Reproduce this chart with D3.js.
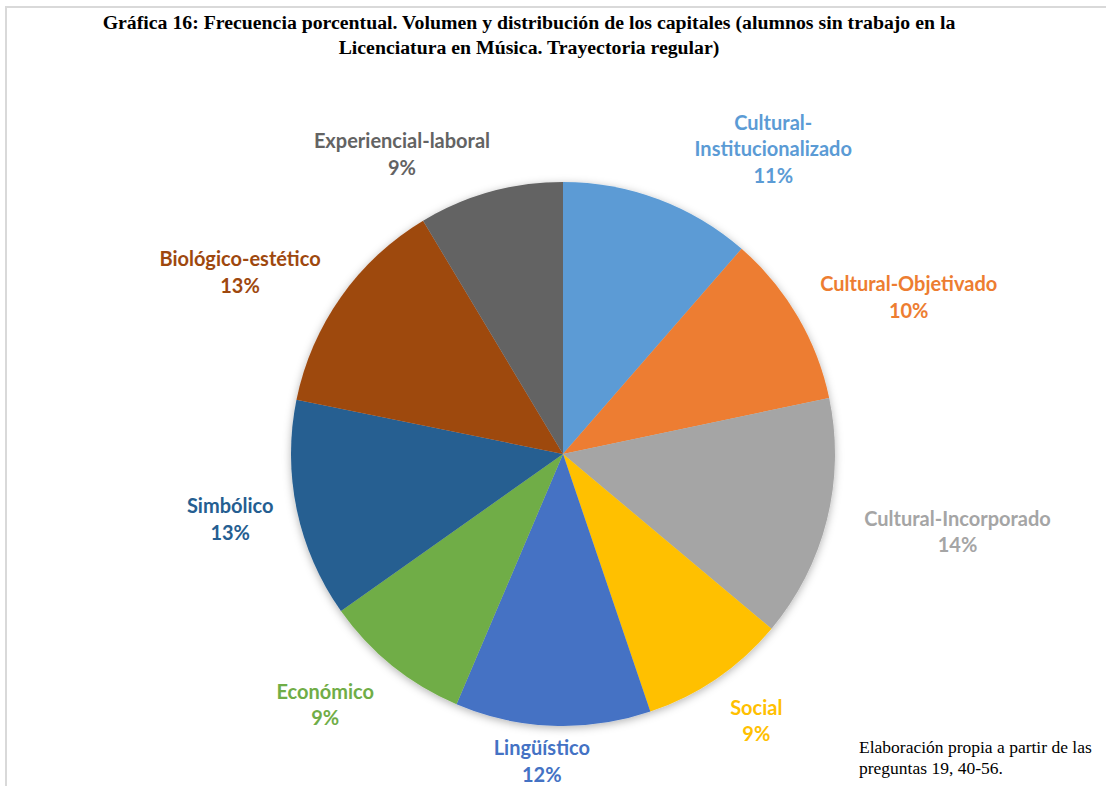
<!DOCTYPE html>
<html>
<head>
<meta charset="utf-8">
<script src="https://cdn.jsdelivr.net/npm/d3@7"></script>
<style>
  html, body { margin: 0; padding: 0; background: #ffffff; }
  svg { display: block; }
</style>
</head>
<body>
<svg id="chart" width="1106" height="786"></svg>
<script>
// Capital categories, clockwise from 12 o'clock
const categories = [
  "Cultural-Institucionalizado",
  "Cultural-Objetivado",
  "Cultural-Incorporado",
  "Social",
  "Lingüístico",
  "Económico",
  "Simbólico",
  "Biológico-estético",
  "Experiencial-laboral"
];
// Percentage frequency of each capital
const values = [11.4, 10.3, 14.4, 8.7, 11.6, 8.8, 13.0, 13.2, 8.6];
const sliceColors = [
  "#5B9BD5", "#ED7D31", "#A5A5A5", "#FFC000", "#4472C4",
  "#70AD47", "#255E91", "#9E480E", "#636363"
];
const titleLines = [
  "Gráfica 16: Frecuencia porcentual. Volumen y distribución de los capitales (alumnos sin trabajo en la",
  "Licenciatura en Música. Trayectoria regular)"
];
const noteLines = [
  "Elaboración propia a partir de las",
  "preguntas 19, 40-56."
];

const W = 1106, H = 786;
const cx = 563, cy = 454, radius = 272;

const svg = d3.select("#chart");

// Outer frame (top and left edges visible)
svg.append("path")
  .attr("d", `M6,${H} L6,7 L${W},7`)
  .attr("fill", "none")
  .attr("stroke", "#d9d9d9")
  .attr("stroke-width", 2);

// Title
const title = svg.append("text")
  .attr("text-anchor", "middle")
  .attr("font-family", "'Liberation Serif', 'Times New Roman', serif")
  .attr("font-weight", "bold")
  .attr("font-size", 19.8)
  .attr("fill", "#000");
titleLines.forEach((t, i) => {
  title.append("tspan")
    .attr("x", 529)
    .attr("y", 29 + i * 25)
    .text(t);
});

// Soft drop shadow under the pie
const defs = svg.append("defs");
const f = defs.append("filter").attr("id", "pieShadow")
  .attr("x", "-10%").attr("y", "-10%").attr("width", "120%").attr("height", "120%");
f.append("feDropShadow")
  .attr("dx", 0).attr("dy", 2)
  .attr("stdDeviation", 4)
  .attr("flood-color", "#000")
  .attr("flood-opacity", 0.3);

const data = categories.map((c, i) => ({ name: c, value: values[i], color: sliceColors[i] }));

const pie = d3.pie().sort(null).value(d => d.value);
const arcs = pie(data);
const arc = d3.arc().innerRadius(0).outerRadius(radius);

const g = svg.append("g").attr("transform", `translate(${cx},${cy})`);
g.append("g").attr("filter", "url(#pieShadow)")
  .selectAll("path")
  .data(arcs)
  .join("path")
  .attr("d", arc)
  .attr("fill", d => d.data.color);

// Data label placement: angular nudge (degrees) and distance from centre
const labelPlacement = {
  "Cultural-Institucionalizado": { turn: 14.0, dist: 371 },
  "Cultural-Objetivado": { turn: 5.9, dist: 380 },
  "Cultural-Incorporado": { turn: -3.0, dist: 402 },
  "Social": { turn: -1.6, dist: 329 },
  "Lingüístico": { turn: 1.8, dist: 307 },
  "Económico": { turn: 4.7, dist: 345 },
  "Simbólico": { turn: 0.9, dist: 339 },
  "Biológico-estético": { turn: -5.8, dist: 371 },
  "Experiencial-laboral": { turn: -12.7, dist: 341 }
};

const pct = d3.format(".0%");
const lineH = 26.5;

function labelLines(d) {
  const name = d.data.name;
  const lines = name.length > 22 ? name.replace("-", "-\n").split("\n") : [name];
  lines.push(pct(d.data.value / 100));
  return lines;
}

const labels = g.append("g")
  .attr("font-family", "Lato, 'Open Sans', sans-serif")
  .attr("font-weight", "bold")
  .attr("font-size", 20)
  .attr("text-anchor", "middle");

arcs.forEach(d => {
  const p = labelPlacement[d.data.name];
  const a = (d.startAngle + d.endAngle) / 2 + p.turn * Math.PI / 180;
  const x = Math.sin(a) * p.dist;
  const y = -Math.cos(a) * p.dist;
  const lines = labelLines(d);
  const t = labels.append("text")
    .attr("fill", d.data.color)
    .attr("dominant-baseline", "central");
  lines.forEach((ln, i) => {
    t.append("tspan")
      .attr("x", x)
      .attr("y", y + (i - (lines.length - 1) / 2) * lineH)
      .text(ln);
  });
});

// Source note
const note = svg.append("text")
  .attr("font-family", "'Liberation Serif', 'Times New Roman', serif")
  .attr("font-size", 17.5)
  .attr("fill", "#000");
noteLines.forEach((t, i) => {
  note.append("tspan")
    .attr("x", 859)
    .attr("y", 753 + i * 21)
    .text(t);
});
</script>
</body>
</html>
